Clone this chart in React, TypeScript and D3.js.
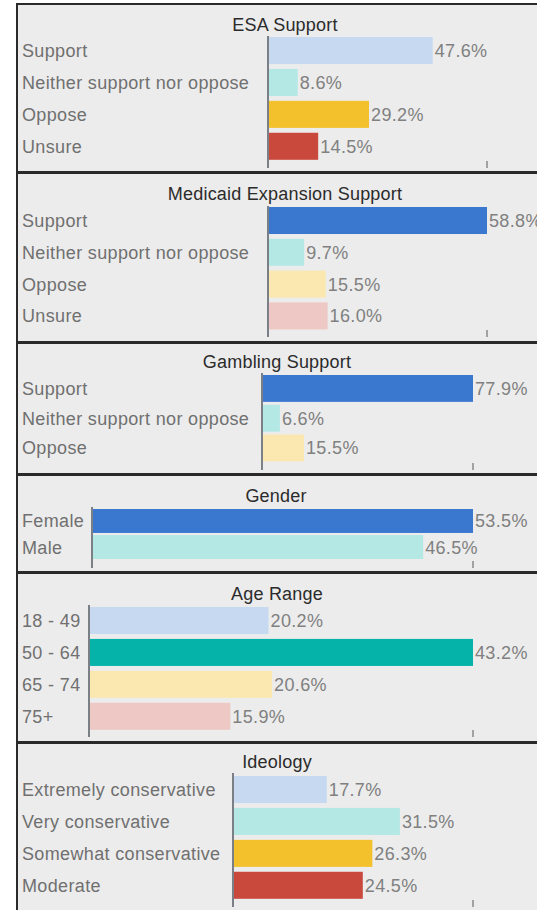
import React from "react";
import * as d3 from "d3";

// ---- data ----
const esaCategories = ["Support", "Neither support nor oppose", "Oppose", "Unsure"];
const esaValues = [47.6, 8.6, 29.2, 14.5];

const medicaidCategories = ["Support", "Neither support nor oppose", "Oppose", "Unsure"];
const medicaidValues = [58.8, 9.7, 15.5, 16.0];

const gamblingCategories = ["Support", "Neither support nor oppose", "Oppose"];
const gamblingValues = [77.9, 6.6, 15.5];

const genderCategories = ["Female", "Male"];
const genderValues = [53.5, 46.5];

const ageCategories = ["18 - 49", "50 - 64", "65 - 74", "75+"];
const ageValues = [20.2, 43.2, 20.6, 15.9];

const ideologyCategories = ["Extremely conservative", "Very conservative", "Somewhat conservative", "Moderate"];
const ideologyValues = [17.7, 31.5, 26.3, 24.5];

const panelTitles = ["ESA Support", "Medicaid Expansion Support", "Gambling Support", "Gender", "Age Range", "Ideology"];
const panelDomainMax = [63.3, 58.8, 77.9, 53.5, 43.2, 45.3];

// ---- styles ----
const C = {
  lightBlue: "#c6d9f1",
  aqua: "#b3e8e5",
  orange: "#f2c12c",
  red: "#c94a3d",
  darkBlue: "#3a77cf",
  paleYellow: "#fbe8b1",
  palePink: "#edc8c4",
  teal: "#06b3a9",
};
const panelColors = [
  [C.lightBlue, C.aqua, C.orange, C.red],
  [C.darkBlue, C.aqua, C.paleYellow, C.palePink],
  [C.darkBlue, C.aqua, C.paleYellow],
  [C.darkBlue, C.aqua],
  [C.lightBlue, C.teal, C.paleYellow, C.palePink],
  [C.lightBlue, C.aqua, C.orange, C.red],
];

// ---- layout (pixels) ----
const layout = [
  { top: 4, bottom: 172, axisX: 268, end: 487, titleX: 285, titleY: 31, axisTop: 36, axisBottom: 168, band0: 37, step: 30.7, barH: 26 },
  { top: 173, bottom: 342, axisX: 268, end: 487, titleX: 285, titleY: 200, axisTop: 206, axisBottom: 337, band0: 207, step: 30.6, barH: 26 },
  { top: 343, bottom: 474, axisX: 262, end: 473, titleX: 277, titleY: 368, axisTop: 373, axisBottom: 470, band0: 375, step: 28.8, barH: 26 },
  { top: 475, bottom: 572, axisX: 92, end: 473, titleX: 276, titleY: 502, axisTop: 507, axisBottom: 568, band0: 509, step: 25, barH: 23 },
  { top: 573, bottom: 742, axisX: 89, end: 473, titleX: 277, titleY: 600, axisTop: 605, axisBottom: 737, band0: 607, step: 30.7, barH: 26 },
  { top: 743, bottom: 918, axisX: 233, end: 473, titleX: 277, titleY: 768, axisTop: 773, axisBottom: 907, band0: 776, step: 30.7, barH: 26 },
];

const panelCategories = [esaCategories, medicaidCategories, gamblingCategories, genderCategories, ageCategories, ideologyCategories];
const panelValues = [esaValues, medicaidValues, gamblingValues, genderValues, ageValues, ideologyValues];

const FONT = "'Liberation Sans', Arial, sans-serif";
const FS = 18;
const LS = 0.35;

function Panel({ i }: { i: number }) {
  const L = layout[i];
  const cats = panelCategories[i];
  const vals = panelValues[i];
  const x = d3.scaleLinear().domain([0, panelDomainMax[i]]).range([L.axisX, L.end]);
  const y = d3
    .scaleBand<string>()
    .domain(cats)
    .range([L.band0, L.band0 + cats.length * L.step])
    .paddingInner(1 - L.barH / L.step)
    .paddingOuter(0);
  return (
    <g>
      <rect x={17} y={L.top} width={540} height={L.bottom - L.top} fill="#ececec" stroke="#2a2a2a" strokeWidth={2} />
      <text x={L.titleX} y={L.titleY} textAnchor="middle" fontFamily={FONT} fontSize={FS} letterSpacing={0.2} fill="#2b2b2b">
        {panelTitles[i]}
      </text>
      {cats.map((c, k) => {
        const yy = y(c)!;
        const bw = y.bandwidth();
        return (
          <g key={c}>
            <rect x={x(0)} y={yy} width={x(vals[k]) - x(0)} height={bw} fill={panelColors[i][k]} />
            <text x={22} y={yy + bw / 2} dy="0.36em" fontFamily={FONT} fontSize={FS} letterSpacing={LS} fill="#707070">
              {c}
            </text>
            <text x={x(vals[k]) + 2} y={yy + bw / 2} dy="0.36em" fontFamily={FONT} fontSize={FS} letterSpacing={LS} fill="#808080">
              {vals[k].toFixed(1) + "%"}
            </text>
          </g>
        );
      })}
      <line x1={L.axisX} x2={L.axisX} y1={L.axisTop} y2={L.axisBottom} stroke="#7b7f86" strokeWidth={2} />
      <line x1={L.end} x2={L.end} y1={L.axisBottom - 7} y2={L.axisBottom} stroke="#8a8a8a" strokeWidth={1.5} />
    </g>
  );
}

export default function App() {
  return (
    <svg
      width={537}
      height={910}
      style={{ position: "absolute", left: 0, top: 0, background: "#ffffff" }}
    >
      {layout.map((_, i) => (
        <Panel key={i} i={i} />
      ))}
    </svg>
  );
}
